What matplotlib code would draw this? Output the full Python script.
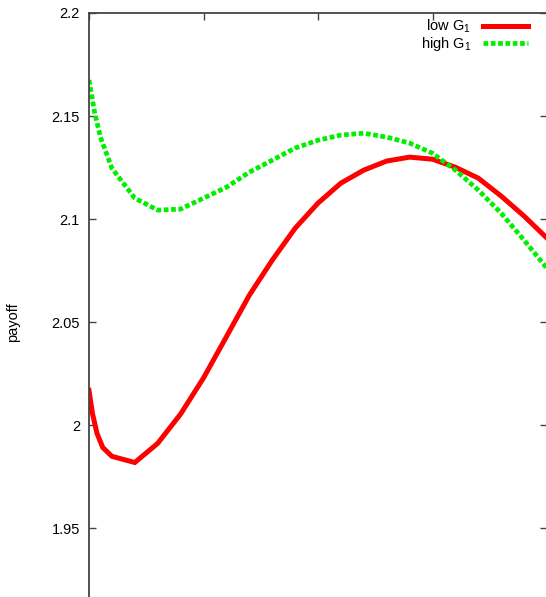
import matplotlib
matplotlib.use("Agg")
import matplotlib.pyplot as plt

plt.rcParams["font.family"] = ["Liberation Sans", "DejaVu Sans"]
plt.rcParams["mathtext.fontset"] = "custom"
plt.rcParams["mathtext.rm"] = "Liberation Sans"
plt.rcParams["mathtext.default"] = "rm"

# low G1 (red, solid)
x_low = [0, 0.03, 0.07, 0.12, 0.2, 0.4, 0.6, 0.8, 1.0, 1.2, 1.4, 1.6, 1.8,
         2.0, 2.2, 2.4, 2.6, 2.8, 3.0, 3.2, 3.4, 3.6, 3.8, 4.0]
y_low = [2.0170, 2.0058, 1.9961, 1.9893, 1.9850, 1.9820, 1.9913, 2.0055,
         2.0230, 2.0430, 2.0631, 2.0801, 2.0956, 2.1078, 2.1175, 2.1238,
         2.1282, 2.1301, 2.1291, 2.1252, 2.1199, 2.1112, 2.1015, 2.0908]

# high G1 (green, dotted)
x_high = [0, 0.05, 0.1, 0.2, 0.4, 0.6, 0.8, 1.0, 1.2, 1.4, 1.6, 1.8, 2.0,
          2.2, 2.4, 2.6, 2.8, 3.0, 3.2, 3.4, 3.6, 3.8, 4.0]
y_high = [2.1675, 2.1515, 2.1398, 2.1247, 2.1102, 2.1044, 2.1049, 2.1102,
          2.1155, 2.1228, 2.1286, 2.1345, 2.1383, 2.1408, 2.1417, 2.1398,
          2.1369, 2.1320, 2.1238, 2.1141, 2.1029, 2.0898, 2.0762]

y_ticks = [1.95, 2.0, 2.05, 2.1, 2.15, 2.2]
y_ticklabels = ["1.95", "2", "2.05", "2.1", "2.15", "2.2"]

W, H = 546, 597
fig = plt.figure(figsize=(W / 100, H / 100), dpi=100)
left, right, top = 89, 547, 13
ymin, ymax = 1.9, 2.2
px_per_unit = 103.1 / 0.05
height_px = (ymax - ymin) * px_per_unit
ax = fig.add_axes([left / W, 1 - (top + height_px) / H, (right - left) / W, height_px / H])

ax.plot(x_low, y_low, color="#ff0000", lw=3.6, solid_joinstyle="miter", label="low G$_1$")
ax.plot(x_high, y_high, color="#00ee00", lw=3.4, linestyle=(0, (1, 0.55)),
        dash_capstyle="butt", label="high G$_1$")

ax.set_xlim(0, 4)
ax.set_ylim(ymin, ymax)
ax.set_xticks([0, 1, 2, 3, 4])
ax.set_xticklabels([])
ax.set_yticks(y_ticks)
ax.set_yticklabels(y_ticklabels)
ax.tick_params(direction="in", top=True, right=True, length=5, width=1,
               color="#444444", labelsize=10.5, pad=6.5)
for s in ax.spines.values():
    s.set_color("#444444")
    s.set_linewidth(1.3)

fig.text(13 / W, 1 - 322 / H, "payoff", rotation=90, ha="center", va="center", fontsize=10.5)

ax.legend(loc="upper right", frameon=False, markerfirst=False, fontsize=10.5,
          handlelength=3.1, handletextpad=0.8, labelspacing=0.0,
          borderpad=0, borderaxespad=0,
          bbox_to_anchor=((528 - left) / (right - left), 1 - 5 / height_px))

fig.savefig("out.png", dpi=100)
